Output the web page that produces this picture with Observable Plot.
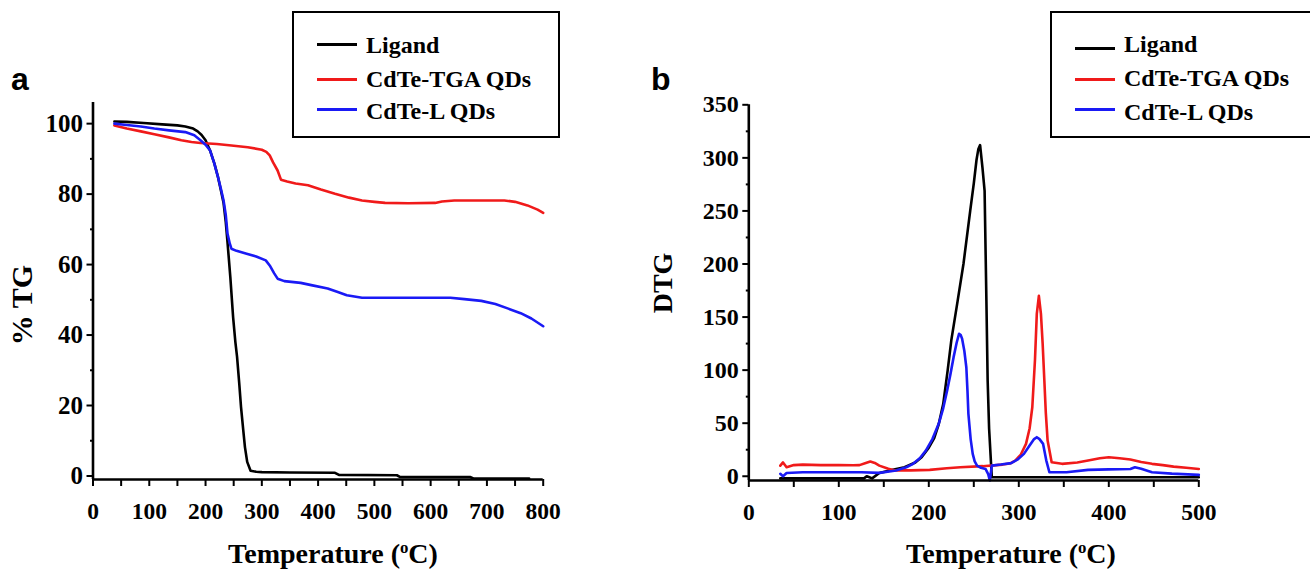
<!DOCTYPE html>
<html><head><meta charset="utf-8">
<script src="https://cdn.jsdelivr.net/npm/d3@7"></script>
<script src="https://cdn.jsdelivr.net/npm/@observablehq/plot@0.6"></script>
<style>
body{margin:0;background:#fff;}
#wrap{position:relative;width:1310px;height:571px;overflow:hidden;font-family:"Liberation Serif","Times New Roman",serif;font-weight:bold;color:#000;}
.plot{position:absolute;top:0;}
.plot text{font-family:"Liberation Serif","Times New Roman",serif !important;font-weight:bold;}
.legend{position:absolute;border:2px solid #000;box-sizing:border-box;background:#fff;}
.sw{position:absolute;height:3px;}
.lt{position:absolute;font-size:24px;line-height:24px;white-space:nowrap;}
.ttl{position:absolute;font-size:28px;line-height:34px;text-align:center;white-space:nowrap;}
.panel{position:absolute;font-family:"Liberation Sans",Arial,sans-serif;font-weight:bold;font-size:32px;line-height:32px;}
sup{font-size:0.6em;vertical-align:0.6em;line-height:0;}
</style></head><body><div id="wrap"></div>
<script>
// ---------- series ----------
const seriesNames = ["Ligand", "CdTe-TGA QDs", "CdTe-L QDs"];
const seriesColors = ["#000000", "#f01a1a", "#1a1af5"];

// ---------- panel a : TG (%) vs temperature ----------
const tgLigandT = [38, 60, 90, 123, 150, 164, 178, 186, 193, 200, 208, 216, 222, 228, 232, 236, 239, 244, 249, 253, 256, 260, 263, 267, 270, 274, 280, 290, 300, 350, 430, 437, 540, 546, 670, 676, 775];
const tgLigandV = [100.6, 100.5, 100.2, 99.8, 99.5, 99.2, 98.6, 97.8, 96.8, 95.3, 92.4, 88.5, 84.9, 80.5, 77.5, 72, 66.4, 56.5, 45, 38, 33.8, 26, 19.6, 13, 8.2, 4, 1.5, 1.2, 1.1, 1.0, 0.9, 0.3, 0.2, -0.3, -0.3, -0.7, -0.7];

const tgTgaT = [38, 60, 85, 109, 135, 157, 175, 191, 220, 246, 275, 300, 308, 314, 320, 328, 334, 345, 360, 382, 405, 430, 455, 478, 500, 519, 560, 608, 620, 642, 690, 731, 750, 772, 790, 800];
const tgTgaV = [99.5, 98.6, 97.8, 97, 96.1, 95.3, 94.8, 94.5, 94.2, 93.8, 93.3, 92.6, 92, 91, 89, 86.7, 84.1, 83.6, 83, 82.5, 81.3, 80.1, 79, 78.2, 77.8, 77.5, 77.4, 77.5, 77.9, 78.2, 78.2, 78.2, 77.8, 76.8, 75.6, 74.7];

const tgLT = [38, 60, 85, 109, 135, 164, 180, 191, 200, 208, 215, 222, 228, 232, 236, 239, 243, 246, 255, 273, 290, 307, 315, 322, 328, 340, 369, 390, 417, 435, 451, 478, 520, 580, 635, 660, 690, 715, 738, 760, 779, 800];
const tgLV = [100, 99.6, 99.2, 98.6, 98.1, 97.6, 96.7, 95.3, 94, 92.4, 89, 84.9, 81, 78.2, 74, 68.8, 66, 64.5, 63.9, 63.1, 62.3, 61.2, 59.5, 57.5, 56, 55.3, 54.8, 54.1, 53.2, 52.2, 51.3, 50.6, 50.6, 50.6, 50.6, 50.2, 49.7, 48.8, 47.5, 46.2, 44.7, 42.5];

// ---------- panel b : DTG vs temperature ----------
const dtgLigandT = [35, 60, 100, 128, 131, 134, 137, 145, 160, 173, 185, 192, 200, 206, 211, 216, 221, 225, 232, 238.5, 246, 250, 253, 255, 257, 259.6, 262, 264, 265.4, 267, 270, 275, 350, 430, 500];
const dtgLigandV = [-2, -2, -2, -2, 0, -1, -2, 3, 6, 8.5, 13, 17.9, 27, 36, 49, 68, 100, 128, 165, 200, 250, 276, 298, 308, 312, 291, 269, 165.6, 90, 45, -1, -1, -1, -1, -1];

const dtgTgaT = [35, 38, 42, 50, 60, 80, 100, 116, 123, 130, 135, 140, 145, 155, 163, 180, 201, 220, 235, 260, 282, 290, 296, 302, 308, 312, 315, 318, 320, 322.3, 324.6, 326.5, 328.4, 330, 332, 336.5, 348, 365, 377, 390, 400, 412, 424, 436, 448, 460, 472, 486, 500];
const dtgTgaV = [10, 13, 8.5, 10.5, 11, 10.5, 10.5, 10.3, 10.5, 12.5, 13.9, 12.5, 10, 7, 5.5, 5.5, 6, 7.5, 8.5, 9.5, 11, 12, 14.8, 20, 30.5, 45, 65, 110, 153, 170, 153, 125, 90, 60, 33.6, 13.2, 11.7, 13, 14.8, 17, 17.9, 17, 15.8, 13.5, 11.7, 10.5, 9.1, 8, 6.9];

const dtgLT = [35, 38, 42, 60, 90, 125, 145, 163.5, 175, 182.5, 190, 196.7, 204, 211, 216, 220.4, 224, 227.5, 231, 233.6, 235.5, 237, 239.5, 241.7, 243, 244, 246.5, 248.8, 251, 253.6, 258, 263, 266, 267.8, 270, 280, 291.5, 299, 305.7, 312, 317, 320, 323, 327, 330.5, 334, 345, 353, 377, 400, 424, 429, 436, 448, 470, 500];
const dtgLV = [2.3, 0, 3, 3.8, 3.8, 3.8, 3.2, 5.4, 8.5, 11.7, 17, 24.2, 35, 49.4, 64, 80.8, 96, 112, 126, 134.2, 133, 129.5, 118, 102.7, 80, 58.8, 35, 21.1, 14, 10.1, 8, 6.9, 2, -4, 10, 11, 12.4, 16, 21.1, 29, 35, 36.8, 35, 30.5, 15, 3.8, 3.8, 3.8, 6, 6.5, 6.9, 8.5, 7, 3.8, 2.5, 1.3];

// ---------- tick labels ----------
const xTicksA = [0, 100, 200, 300, 400, 500, 600, 700, 800];
const yTicksA = [0, 20, 40, 60, 80, 100];
const xTicksB = [0, 100, 200, 300, 400, 500];
const yTicksB = [0, 50, 100, 150, 200, 250, 300, 350];

function rows(pairs) {
  const out = [];
  pairs.forEach(([name, T, V]) => T.forEach((t, i) => out.push({s: name, T: t, v: V[i]})));
  return out;
}
const tgRows = rows([["Ligand", tgLigandT, tgLigandV], ["CdTe-TGA QDs", tgTgaT, tgTgaV], ["CdTe-L QDs", tgLT, tgLV]]);
const dtgRows = rows([["Ligand", dtgLigandT, dtgLigandV], ["CdTe-TGA QDs", dtgTgaT, dtgTgaV], ["CdTe-L QDs", dtgLT, dtgLV]]);

const serif = "Liberation Serif";

function makePlot(cfg) {
  const xMajor = d3.range(cfg.xDomain[0], cfg.xDomain[1] + 1, cfg.xStep);
  return Plot.plot({
    width: cfg.width, height: 571,
    marginLeft: cfg.ml, marginRight: cfg.mr, marginTop: cfg.mt, marginBottom: cfg.mb,
    x: {domain: cfg.xDomain},
    y: {domain: cfg.yDomain},
    color: {domain: seriesNames, range: seriesColors},
    style: {fontFamily: serif, fontWeight: "bold", background: "transparent", color: "#000", maxWidth: "none"},
    marks: [
      Plot.axisX({ticks: xMajor, tickSize: 7, tickPadding: 16, strokeWidth: 2,
        tickFormat: d => cfg.xTicks.includes(d) ? String(d) : "", fontSize: 23.5, fontWeight: "bold", fontFamily: serif, label: null}),
      Plot.axisY({ticks: cfg.yTicks, tickSize: 6, tickPadding: 4, strokeWidth: 2,
        tickFormat: d => String(d), fontSize: cfg.yFont, fontWeight: "bold", fontFamily: serif, label: null}),
      Plot.axisY({ticks: cfg.yMinor, tickSize: 2.5, strokeWidth: 2, tickFormat: () => "", label: null}),
      Plot.line(cfg.data, {x: "T", y: "v", z: "s", stroke: "s", strokeWidth: 2.6}),
      Plot.ruleY([cfg.yDomain[0]], {strokeWidth: 2.6}),
      Plot.ruleX([cfg.xDomain[0]], {strokeWidth: 2.6})
    ]
  });
}

const wrap = document.getElementById("wrap");

const pa = makePlot({width: 640, ml: 92.5, mr: 97.3, mt: 102, mb: 92,
  xDomain: [0, 800], xStep: 50, xTicks: xTicksA, yDomain: [-1, 106], yTicks: yTicksA,
  yMinor: [10, 30, 50, 70, 90], yFont: 25, data: tgRows});
pa.classList.add("plot"); pa.style.left = "0px";
wrap.appendChild(pa);

const pb = makePlot({width: 670, ml: 108.3, mr: 111.7, mt: 104.3, mb: 91,
  xDomain: [0, 500], xStep: 50, xTicks: xTicksB, yDomain: [-4, 350], yTicks: yTicksB,
  yMinor: [25, 75, 125, 175, 225, 275, 325], yFont: 24, data: dtgRows});
pb.classList.add("plot"); pb.style.left = "640px";
wrap.appendChild(pb);

function addHTML(html) { wrap.insertAdjacentHTML("beforeend", html); }

// panel letters
addHTML(`<div class="panel" style="left:11px;top:63px;">a</div>`);
addHTML(`<div class="panel" style="left:651px;top:63px;">b</div>`);

// axis titles
addHTML(`<div class="ttl" style="left:183px;top:537px;width:300px;">Temperature (<sup>o</sup>C)</div>`);
addHTML(`<div class="ttl" style="left:861px;top:537px;width:300px;">Temperature (<sup>o</sup>C)</div>`);
addHTML(`<div class="ttl" style="left:-38px;top:288px;width:120px;height:34px;font-size:30px;transform:rotate(-90deg);">% TG</div>`);
addHTML(`<div class="ttl" style="left:603px;top:266px;width:120px;height:34px;transform:rotate(-90deg);">DTG</div>`);

// legends
function legend(left, width, lineYs, textYs) {
  let h = `<div class="legend" style="left:${left}px;top:11px;width:${width}px;height:127px;">`;
  seriesNames.forEach((n, i) => {
    h += `<div class="sw" style="left:23px;width:40px;top:${lineYs[i] - 11 - 1.5}px;background:${seriesColors[i]}"></div>`;
    h += `<div class="lt" style="left:72px;top:${textYs[i] - 11 - 14}px;">${n}</div>`;
  });
  h += `</div>`;
  addHTML(h);
}
legend(292, 268, [42, 77, 107], [45, 79, 111]);
legend(1050, 275, [46, 77, 107], [44, 78, 112]);
</script>
</body></html>
